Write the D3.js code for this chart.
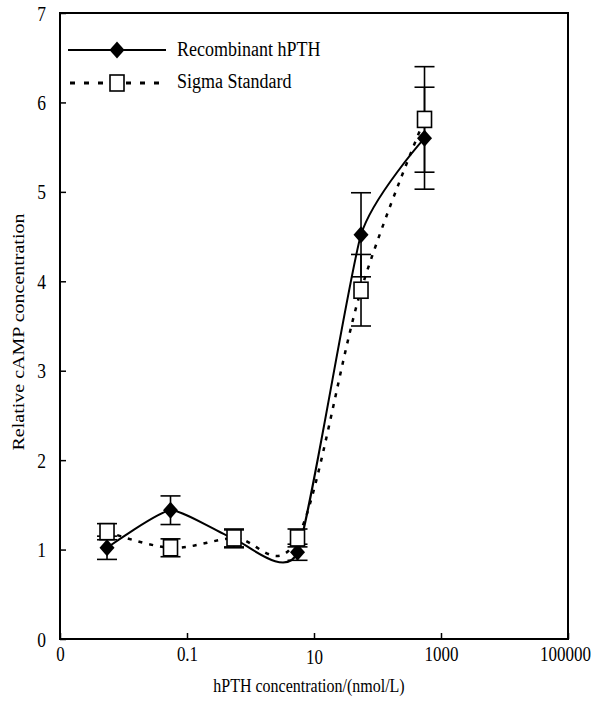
<!DOCTYPE html>
<html><head><meta charset="utf-8">
<script src="https://cdn.jsdelivr.net/npm/d3@7"></script>
<style>
html,body{margin:0;padding:0;background:#fff;}
</style></head>
<body><svg id="c" width="593" height="702" font-family="'Liberation Serif','DejaVu Serif',serif"></svg>
<script>
const concentrations = [0.0055, 0.055, 0.55, 5.5, 55, 550];
const recombinant = [1.02, 1.44, 1.12, 0.97, 4.52, 5.60];
const recombinantErr = [0.13, 0.16, 0.10, 0.09, 0.47, 0.57];
const sigma = [1.20, 1.02, 1.13, 1.13, 3.90, 5.81];
const sigmaErr = [0.09, 0.10, 0.10, 0.10, 0.40, 0.59];
const xTicks = [0.001, 0.1, 10, 1000, 100000];
const xTickLabels = ["0", "0.1", "10", "1000", "100000"];
const yTicks = [0, 1, 2, 3, 4, 5, 6, 7];
const seriesNames = ["Recombinant hPTH", "Sigma Standard"];

const FONT = "'Liberation Serif','Times New Roman',serif";
const VS = 1.2; // vertical stretch of the original glyphs
const svg = d3.select("#c");
const L = 60, R = 568, T = 13, B = 639;
const x = d3.scaleLog().domain([0.001, 100000]).range([L, R]);
const y = d3.scaleLinear().domain([0, 7]).range([B, T]);

// frame
svg.append("rect").attr("x", L).attr("y", T).attr("width", R - L).attr("height", B - T)
  .attr("fill", "none").attr("stroke", "#000").attr("stroke-width", 2);

// axes
const xAxis = d3.axisBottom(x).tickValues(xTicks).tickSizeInner(-6).tickSizeOuter(0)
  .tickFormat((d, i) => xTickLabels[i]);
const gx = svg.append("g").attr("transform", `translate(0,${B})`).call(xAxis)
  .attr("font-family", FONT);
gx.select(".domain").remove();
gx.selectAll("line").attr("stroke-width", 1.5);
gx.selectAll("text").attr("font-size", 17).attr("y", 0).attr("dy", 0).attr("fill", "#000")
  .attr("transform", (d, i) => `translate(${i === 4 ? -3 : 0},${i === 2 ? 25 : 22}) scale(1,${VS})`);

const yAxis = d3.axisLeft(y).tickValues(yTicks).tickSizeInner(-6).tickSizeOuter(0)
  .tickFormat(d3.format("d"));
const gy = svg.append("g").attr("transform", `translate(${L},0)`).call(yAxis)
  .attr("font-family", FONT);
gy.select(".domain").remove();
gy.selectAll("line").attr("stroke-width", 1.5);
gy.selectAll("text").attr("font-size", 17.5).attr("x", 0).attr("dy", 0).attr("fill", "#000")
  .attr("transform", `translate(-14,7) scale(1,${VS})`);

// titles
svg.append("text").attr("transform", `translate(309,692) scale(1,${VS})`).attr("text-anchor", "middle")
  .attr("font-family", FONT).attr("font-size", 16).text("hPTH concentration/(nmol/L)");
svg.append("text").attr("transform", `translate(24,332) scale(1,1.25) rotate(-90)`)
  .attr("font-family", FONT).attr("text-anchor", "middle").attr("font-size", 16).text("Relative cAMP concentration");

const recLine = d3.line().curve(d3.curveCardinal.tension(0.45));
const sigLine = d3.line().curve(d3.curveCardinal.tension(0));

const recPts = concentrations.map((c, i) => [x(c), y(recombinant[i])]);
const sigPts = concentrations.map((c, i) => [x(c), y(sigma[i])]);

// lines
svg.append("path").attr("d", sigLine(sigPts)).attr("fill", "none").attr("stroke", "#000")
  .attr("stroke-width", 2.5).attr("stroke-dasharray", "4,7");
svg.append("path").attr("d", recLine(recPts)).attr("fill", "none").attr("stroke", "#000")
  .attr("stroke-width", 2);

// error bars
function errBars(vals, errs) {
  const g = svg.append("g").attr("stroke", "#000").attr("stroke-width", 1.6);
  concentrations.forEach((c, i) => {
    const cx = x(c), y1 = y(vals[i] + errs[i]), y2 = y(vals[i] - errs[i]);
    g.append("line").attr("x1", cx).attr("x2", cx).attr("y1", y1).attr("y2", y2);
    g.append("line").attr("x1", cx - 10).attr("x2", cx + 10).attr("y1", y1).attr("y2", y1);
    g.append("line").attr("x1", cx - 10).attr("x2", cx + 10).attr("y1", y2).attr("y2", y2);
  });
}
errBars(sigma, sigmaErr);
errBars(recombinant, recombinantErr);

const diamond = (cx, cy) => `M${cx},${cy - 8.5}L${cx + 7.5},${cy}L${cx},${cy + 8.5}L${cx - 7.5},${cy}Z`;
svg.append("g").selectAll("path").data(recPts).join("path")
  .attr("d", d => diamond(d[0], d[1])).attr("fill", "#000");
svg.append("g").selectAll("rect").data(sigPts).join("rect")
  .attr("x", d => d[0] - 7).attr("y", d => d[1] - 8).attr("width", 14).attr("height", 16)
  .attr("fill", "#fff").attr("stroke", "#000").attr("stroke-width", 1.6);

// legend
const lg = svg.append("g").attr("font-family", FONT);
lg.append("line").attr("x1", 68).attr("x2", 166).attr("y1", 50).attr("y2", 50)
  .attr("stroke", "#000").attr("stroke-width", 2);
lg.append("path").attr("d", diamond(117, 50)).attr("fill", "#000");
lg.append("text").attr("transform", `translate(177,56) scale(1,${VS})`).attr("font-size", 18).text(seriesNames[0]);
lg.append("line").attr("x1", 70).attr("x2", 166).attr("y1", 83).attr("y2", 83)
  .attr("stroke", "#000").attr("stroke-width", 3).attr("stroke-dasharray", "5,9");
lg.append("rect").attr("x", 110).attr("y", 75).attr("width", 14).attr("height", 16)
  .attr("fill", "#fff").attr("stroke", "#000").attr("stroke-width", 1.6);
lg.append("text").attr("transform", `translate(177,88) scale(1,${VS})`).attr("font-size", 18).text(seriesNames[1]);
</script></body></html>
